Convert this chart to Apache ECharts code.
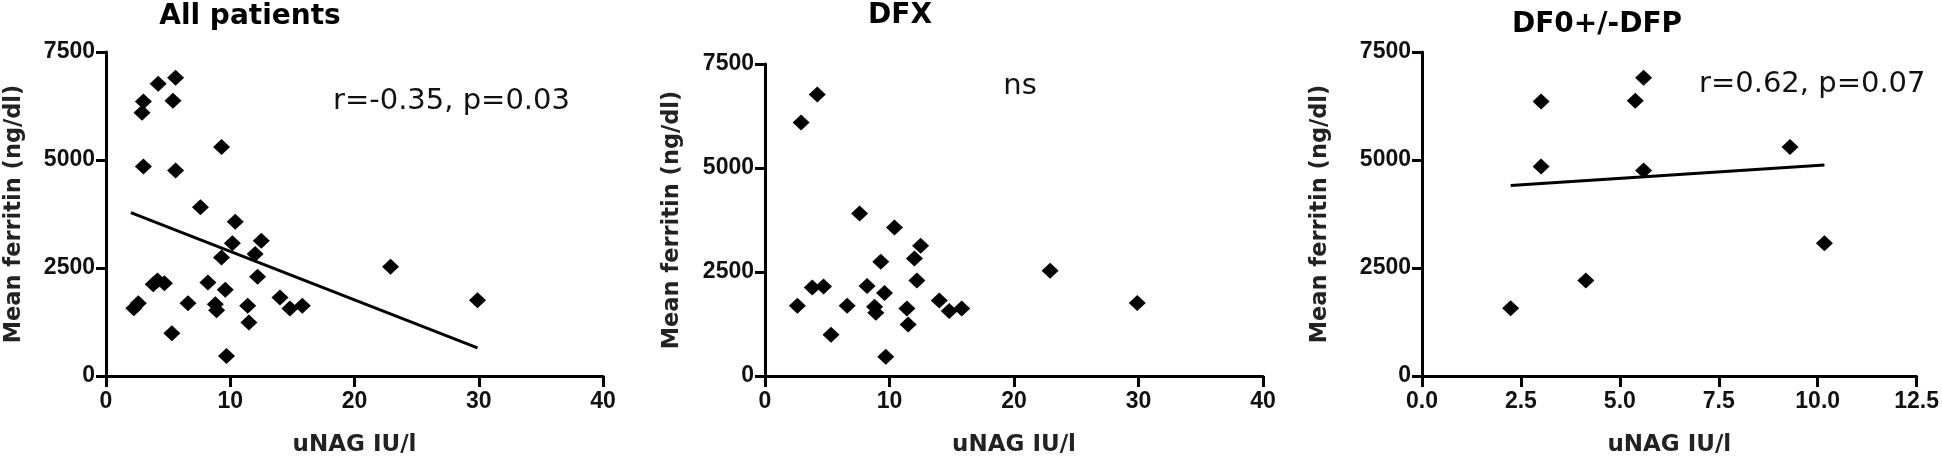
<!DOCTYPE html>
<html>
<head>
<meta charset="utf-8">
<script src="https://cdn.jsdelivr.net/npm/echarts@6/dist/echarts.min.js"></script>
<style>
  html, body { margin: 0; padding: 0; background: #fff; }
  #chart { width: 1942px; height: 462px; }
</style>
</head>
<body>
<div id="chart"></div>
<script>
// ---- Data ----
// DFX group (uNAG IU/l, mean ferritin ng/dl)
const dfxX = [2.6, 2.9, 4.2, 3.8, 4.7, 5.3, 6.6, 7.6, 8.2, 8.8, 8.9, 9.3, 9.6, 9.7, 10.4, 11.4, 11.5, 12.0, 12.2, 12.5, 14.0, 14.8, 15.8, 22.9, 29.9];
const dfxY = [1686, 6093, 6765, 2126, 2149, 990, 1686, 3905, 2165, 1662, 1523, 2745, 1995, 464, 3572, 1624, 1237, 2822, 2296, 3131, 1817, 1562, 1624, 2528, 1755];
// DF0+/-DFP group
const dfoX = [2.24, 3.01, 3.01, 4.14, 5.39, 5.60, 5.60, 9.30, 10.17];
const dfoY = [1570, 6355, 4850, 2210, 6370, 6905, 4755, 5300, 3075];
// Regression lines (end points as drawn)
const regAllX = [2.0, 29.9];
const regAllY = [3780, 650];
const regDfoX = [2.24, 10.17];
const regDfoY = [4410, 4885];
// Titles and annotations
const panelTitles = ['All patients', 'DFX', 'DF0+/-DFP'];
const panelNotes = ['r=-0.35, p=0.03', 'ns', 'r=0.62, p=0.07'];
const xName = 'uNAG IU/l';
const yName = 'Mean ferritin (ng/dl)';
// Axis ranges / ticks
const yMin = 0, yMax = 7500, yStep = 2500;
const xRanges = [[0, 40, 10], [0, 40, 10], [0, 12.5, 2.5]];

// ---- Build ----
const allX = dfxX.concat(dfoX);
const allY = dfxY.concat(dfoY);
const pairs = (xs, ys) => xs.map((x, i) => [x, ys[i]]);

const grids = [
  { left: 106, top: 52, width: 497, height: 332 },
  { left: 765, top: 64, width: 498, height: 322 },
  { left: 1422, top: 52, width: 496, height: 332 }
];
const yGaps = [80, 81, 90];

const axisLine = { show: true, onZero: false, lineStyle: { color: '#000', width: 3 } };
const tickFont = { color: '#111', fontFamily: 'Liberation Sans', fontWeight: 'bold', fontSize: 23 };
const nameFontX = { color: '#222', fontFamily: 'DejaVu Sans', fontWeight: 'bold', fontSize: 23 };
const nameFontY = { color: '#222', fontFamily: 'DejaVu Sans', fontWeight: 'bold', fontSize: 22.5 };

const xAxes = xRanges.map((r, i) => ({
  type: 'value', gridIndex: i, min: r[0], max: r[1], interval: r[2],
  axisLine: axisLine,
  axisTick: { show: true, length: 11, lineStyle: { color: '#000', width: 3 } },
  splitLine: { show: false },
  axisLabel: Object.assign({ margin: 14, formatter: v => (i === 2 ? v.toFixed(1) : String(v)) }, tickFont),
  name: xName, nameLocation: 'middle', nameGap: 58, nameTextStyle: nameFontX
}));
const yAxes = grids.map((g, i) => ({
  type: 'value', gridIndex: i, min: yMin, max: yMax, interval: yStep,
  axisLine: axisLine,
  axisTick: { show: true, length: 10, lineStyle: { color: '#000', width: 3 } },
  splitLine: { show: false },
  axisLabel: Object.assign({ margin: 11, formatter: v => String(v) }, tickFont),
  name: yName, nameLocation: 'middle', nameGap: yGaps[i], nameRotate: 90, nameTextStyle: nameFontY
}));

const scatterStyle = { type: 'scatter', symbol: 'diamond', symbolSize: [17, 16], itemStyle: { color: '#000', opacity: 1 } };
const series = [
  Object.assign({ xAxisIndex: 0, yAxisIndex: 0, data: pairs(allX, allY) }, scatterStyle),
  { type: 'line', xAxisIndex: 0, yAxisIndex: 0, data: pairs(regAllX, regAllY), showSymbol: false, symbol: 'none',
    lineStyle: { color: '#000', width: 3 } },
  Object.assign({ xAxisIndex: 1, yAxisIndex: 1, data: pairs(dfxX, dfxY) }, scatterStyle),
  Object.assign({ xAxisIndex: 2, yAxisIndex: 2, data: pairs(dfoX, dfoY) }, scatterStyle),
  { type: 'line', xAxisIndex: 2, yAxisIndex: 2, data: pairs(regDfoX, regDfoY), showSymbol: false, symbol: 'none',
    lineStyle: { color: '#000', width: 3 } }
];

const titlePos = [[250, 17], [900, 16], [1597, 25]];
const notePos = [[333, 101, 'left'], [1020, 86, 'center'], [1699, 84, 'left']];
const graphic = [];
panelTitles.forEach((t, i) => graphic.push({
  type: 'text', x: titlePos[i][0], y: titlePos[i][1],
  style: { text: t, fill: '#000', font: 'bold 28px "DejaVu Sans"', textAlign: 'center', textVerticalAlign: 'middle' }
}));
panelNotes.forEach((t, i) => graphic.push({
  type: 'text', x: notePos[i][0], y: notePos[i][1],
  style: { text: t, fill: '#111', font: '29px "DejaVu Sans"', textAlign: notePos[i][2], textVerticalAlign: 'middle' }
}));

const chart = echarts.init(document.getElementById('chart'), null, { renderer: 'canvas' });
chart.setOption({
  animation: false,
  backgroundColor: '#fff',
  grid: grids,
  xAxis: xAxes,
  yAxis: yAxes,
  series: series,
  graphic: graphic
});
</script>
</body>
</html>
